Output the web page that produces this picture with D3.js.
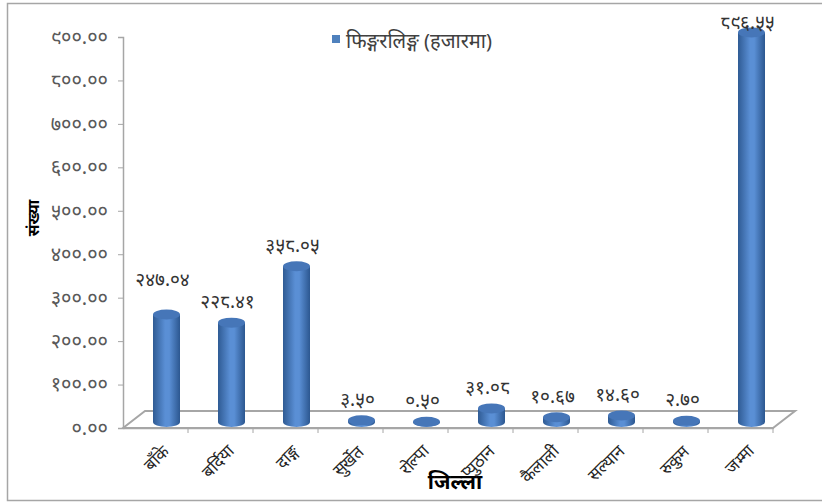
<!doctype html>
<html lang="ne">
<head>
  <meta charset="utf-8">
  <title>फिङ्गरलिङ्ग (हजारमा)</title>
  <script src="https://cdn.jsdelivr.net/npm/d3@7"></script>
  <style>
    body { margin: 0; background: #fff; font-family: "Noto Sans", "DejaVu Sans", sans-serif; }
  </style>
</head>
<body>
  <svg width="822" height="503"></svg>
  <script>
    // data
    var districts = ["बाँके", "बर्दिया", "दाङ्ग", "सुर्खेत", "रोल्पा", "प्युठान", "कैलाली", "सल्यान", "रुकुम", "जम्मा"];
    var fingerlings = [247.04, 228.41, 358.05, 3.50, 0.50, 31.08, 10.67, 14.60, 2.70, 896.55];
    var yTicks = [0, 100, 200, 300, 400, 500, 600, 700, 800, 900];
    var seriesName = "फिङ्गरलिङ्ग (हजारमा)";

    // latin digits -> devanagari digits
    var devDigits = "०१२३४५६७८९";
    function dev(s) {
      return String(s).replace(/[0-9]/g, function(d) { return devDigits[+d]; });
    }

    var svg = d3.select("svg");

    // outer frame
    svg.append("rect")
      .attr("x", 7.5).attr("y", 3.5)
      .attr("width", 830).attr("height", 497)
      .attr("fill", "none")
      .attr("stroke", "#a6a6a6")
      .attr("stroke-width", 1.5);

    var plot = { left: 123, right: 773, top: 37, bottom: 428 },
        depth = { dx: 22, dy: -17 };

    var x = d3.scaleBand().domain(districts).range([plot.left, plot.right]);
    var y = d3.scaleLinear().domain([0, 900]).range([plot.bottom, plot.top]);

    var g = svg.append("g");

    // floor
    g.append("path")
      .attr("d", "M" + plot.left + "," + plot.bottom +
        "L" + (plot.left + depth.dx) + "," + (plot.bottom + depth.dy) +
        "L" + (plot.right + depth.dx) + "," + (plot.bottom + depth.dy) +
        "L" + plot.right + "," + plot.bottom + "Z")
      .attr("fill", "#fff")
      .attr("stroke", "#a6a6a6")
      .attr("stroke-width", 2);

    // y axis
    g.append("g")
      .attr("transform", "translate(" + plot.left + ",0)")
      .call(d3.axisLeft(y).tickValues(yTicks).tickSize(5).tickPadding(10)
        .tickFormat(function(d) { return dev(d.toFixed(2)); }))
      .call(function(a) {
        a.select(".domain").attr("stroke", "#a6a6a6").attr("stroke-width", 1.5);
        a.selectAll(".tick line").attr("stroke", "#a6a6a6");
        a.selectAll(".tick text").attr("fill", "#595959").style("font-size", "20px")
          .style("font-family", "'Noto Sans', sans-serif");
      });

    // x axis (labels at band centres, ticks at band edges)
    var xAxis = g.append("g")
      .attr("transform", "translate(0," + plot.bottom + ")")
      .call(d3.axisBottom(x).tickSize(0).tickPadding(0));
    xAxis.select(".domain").attr("stroke", "#a6a6a6").attr("stroke-width", 1.5);
    xAxis.selectAll(".tick text")
      .attr("text-anchor", "end")
      .attr("transform", "translate(6,16) rotate(-45)")
      .attr("fill", "#262626")
      .style("font-size", "17px");
    xAxis.selectAll(".edge")
      .data(districts)
      .enter().append("line")
      .attr("x1", function(d) { return x(d) + x.bandwidth(); })
      .attr("x2", function(d) { return x(d) + x.bandwidth(); })
      .attr("y1", 0).attr("y2", 5)
      .attr("stroke", "#a6a6a6");

    // cylinders
    var defs = svg.append("defs");
    var grad = defs.append("linearGradient").attr("id", "cyl")
      .attr("x1", "0%").attr("x2", "100%").attr("y1", "0%").attr("y2", "0%");
    grad.append("stop").attr("offset", "0%").attr("stop-color", "#2f5b94");
    grad.append("stop").attr("offset", "45%").attr("stop-color", "#5a8fd5");
    grad.append("stop").attr("offset", "60%").attr("stop-color", "#5a8fd5");
    grad.append("stop").attr("offset", "100%").attr("stop-color", "#2c5790");

    var bw = 27, ry = 5;
    var bars = g.selectAll(".bar")
      .data(fingerlings)
      .enter().append("g")
      .attr("transform", function(d, i) {
        return "translate(" + (x(districts[i]) + x.bandwidth() / 2 + depth.dx / 2) + "," + (depth.dy * 0.36) + ")";
      });

    bars.append("path")
      .attr("d", function(d) {
        var top = y(d), bot = y(0);
        return "M" + (-bw / 2) + "," + top +
          "L" + (-bw / 2) + "," + bot +
          "A" + (bw / 2) + "," + ry + " 0 0 0 " + (bw / 2) + "," + bot +
          "L" + (bw / 2) + "," + top + "Z";
      })
      .attr("fill", "url(#cyl)");

    bars.append("ellipse")
      .attr("cx", 0)
      .attr("cy", function(d) { return y(d); })
      .attr("rx", bw / 2).attr("ry", ry)
      .attr("fill", "#4676b8");

    // data labels (kept inside the chart frame at the top)
    var labels = bars.append("text")
      .attr("x", -4)
      .attr("y", function(d) { return Math.max(y(d) - 21, 28); })
      .attr("dy", "0.35em")
      .attr("text-anchor", "middle")
      .attr("fill", "#333")
      .style("font-size", "19px")
      .text(function(d) { return dev(d.toFixed(2)); });

    // lift a label above its neighbour when the two nearly touch
    var nodes = labels.nodes();
    for (var i = 0; i < nodes.length - 1; i++) {
      var a = nodes[i], b = nodes[i + 1];
      var gap = (x(districts[i + 1]) - x(districts[i])) -
        (a.getComputedTextLength() + b.getComputedTextLength()) / 2;
      var ya = +a.getAttribute("y"), yb = +b.getAttribute("y");
      if (gap < 15 && Math.abs(ya - yb) < 20) {
        if (fingerlings[i] > fingerlings[i + 1]) a.setAttribute("y", yb - 22);
        else b.setAttribute("y", ya - 22);
      }
    }

    // axis titles
    svg.append("text")
      .attr("transform", "translate(39,218) rotate(-90)")
      .attr("text-anchor", "middle")
      .style("font-size", "16px")
      .style("font-weight", "bold")
      .attr("fill", "#000")
      .text("संख्या");

    svg.append("text")
      .attr("x", 455).attr("y", 489)
      .attr("text-anchor", "middle")
      .style("font-size", "21px")
      .style("font-weight", "bold")
      .attr("fill", "#000")
      .text("जिल्ला");

    // legend
    svg.append("rect")
      .attr("x", 332).attr("y", 35)
      .attr("width", 8).attr("height", 8)
      .attr("fill", "#4f81bd");
    svg.append("text")
      .attr("x", 346).attr("y", 48)
      .attr("fill", "#404040")
      .style("font-size", "20px")
      .text(seriesName);
  </script>
</body>
</html>
